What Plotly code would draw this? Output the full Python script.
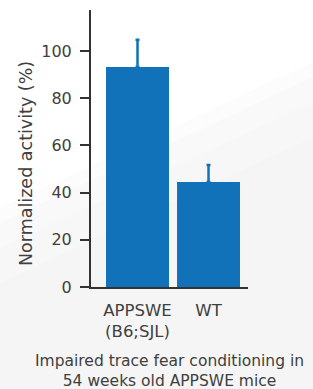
import plotly.graph_objects as go

categories = ["APPSWE<br>(B6;SJL)", "WT"]
values = [93.2, 44.5]
errors = [11.6, 7.2]
y_ticks = [0, 20, 40, 60, 80, 100]

W, H = 313, 389
L, R, T, B = 91, 65, 10, 102
FONT = "DejaVu Sans"
BLUE = "#1172ba"
TXT = "#404040"

fig = go.Figure()
fig.add_trace(go.Bar(
    x=categories, y=values, width=0.887,
    marker=dict(color=BLUE, line=dict(width=0)),
    error_y=dict(type="data", array=errors, arrayminus=[0, 0], symmetric=False,
                 color=BLUE, thickness=2.5, width=2),
))

# background diagonal sheen (paper coords relative to plot area)
pw, ph = W - L - R, H - T - B
def px(x):
    return (x - L) / pw
def py(y):
    return 1 - (y - T) / ph
shapes = []
steps = [(0, 0.02), (15, 0.018), (40, 0.015), (75, 0.012)]
for off, op in steps:
    shapes.append(dict(
        type="path", xref="paper", yref="paper", layer="below",
        path=f"M {px(0)} {py(208+off)} L {px(313)} {py(62+off)} L {px(313)} {py(389)} L {px(0)} {py(389)} Z",
        fillcolor=f"rgba(110,110,110,{op})", line=dict(width=0),
    ))

fig.update_layout(
    width=W, height=H, margin=dict(l=L, r=R, t=T, b=B),
    paper_bgcolor="white", plot_bgcolor="rgba(0,0,0,0)",
    showlegend=False, shapes=shapes,
    font=dict(family=FONT, color=TXT),
    xaxis=dict(range=[-0.655, 1.556], showline=True, linecolor="#333", linewidth=2,
               ticks="", showgrid=False, zeroline=False,
               tickfont=dict(size=16.5, color=TXT), ticklabelstandoff=7),
    yaxis=dict(range=[0, 117.4], showline=True, linecolor="#333", linewidth=2,
               tickvals=y_ticks, ticks="outside", ticklen=9, tickwidth=2, tickcolor="#333",
               showgrid=False, zeroline=False, tickfont=dict(size=16, color=TXT),
               ticklabelstandoff=5),
    annotations=[
        dict(text="Normalized activity (%)", xref="paper", yref="paper",
             x=px(26), y=py(164), textangle=-90, showarrow=False,
             font=dict(size=17.5, color=TXT), xanchor="center", yanchor="middle"),
        dict(text="Impaired trace fear conditioning in<br>54 weeks old APPSWE mice",
             xref="paper", yref="paper", x=px(169), y=py(371), showarrow=False,
             font=dict(size=15.5, color=TXT), xanchor="center", yanchor="middle"),
    ],
)
fig.write_html("out.html", post_script="document.body.style.margin='0px';",
               config={"displayModeBar": False})
